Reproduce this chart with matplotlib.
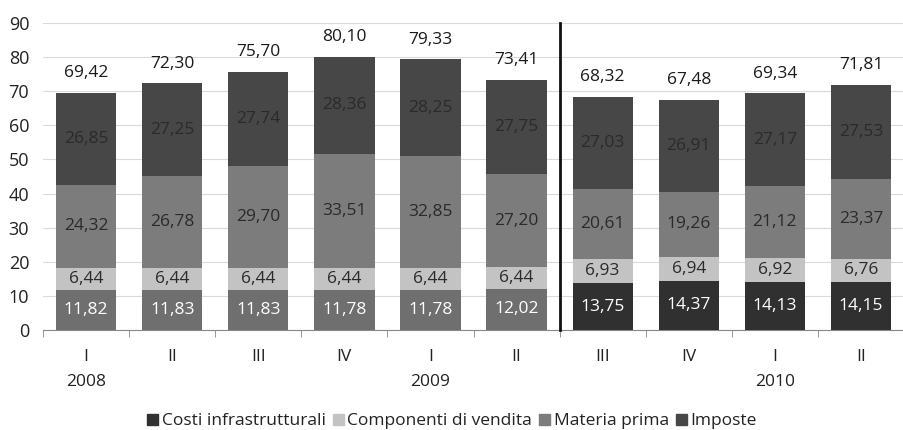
import matplotlib.pyplot as plt
import numpy as np

plt.rcParams['font.family'] = ['Open Sans', 'DejaVu Sans']

quarters = ['I', 'II', 'III', 'IV', 'I', 'II', 'III', 'IV', 'I', 'II']
years = {0: '2008', 4: '2009', 8: '2010'}

infra = [11.82, 11.83, 11.83, 11.78, 11.78, 12.02, 13.75, 14.37, 14.13, 14.15]
vendita = [6.44, 6.44, 6.44, 6.44, 6.44, 6.44, 6.93, 6.94, 6.92, 6.76]
materia = [24.32, 26.78, 29.70, 33.51, 32.85, 27.20, 20.61, 19.26, 21.12, 23.37]
imposte = [26.85, 27.25, 27.74, 28.36, 28.25, 27.75, 27.03, 26.91, 27.17, 27.53]
totali = [69.42, 72.30, 75.70, 80.10, 79.33, 73.41, 68.32, 67.48, 69.34, 71.81]

c_infra_old = '#6f6f6f'
c_infra = '#303030'
c_vend = '#c3c3c3'
c_mat = '#7c7c7c'
c_imp = '#474747'

def fmt(v):
    return f'{v:.2f}'.replace('.', ',')

fig = plt.figure(figsize=(9.04, 4.30), dpi=100)
ax = fig.add_axes([0.0476, 0.2326, 0.9524, 0.714])

x = np.arange(len(quarters))
w = 0.70
fs = 12.5
infra_cols = [c_infra_old] * 6 + [c_infra] * 4

ax.bar(x, infra, w, color=infra_cols, zorder=3)
b1 = np.array(infra)
ax.bar(x, vendita, w, bottom=b1, color=c_vend, zorder=3)
b2 = b1 + np.array(vendita)
ax.bar(x, materia, w, bottom=b2, color=c_mat, zorder=3)
b3 = b2 + np.array(materia)
ax.bar(x, imposte, w, bottom=b3, color=c_imp, zorder=3)
b4 = b3 + np.array(imposte)

for i in range(len(x)):
    ax.text(x[i], infra[i] / 2, fmt(infra[i]), ha='center', va='center',
            color='white', fontsize=fs, zorder=4)
    ax.text(x[i], b1[i] + vendita[i] / 2, fmt(vendita[i]), ha='center', va='center',
            color='#2a2a2a', fontsize=fs, zorder=4)
    ax.text(x[i], b2[i] + materia[i] / 2, fmt(materia[i]), ha='center', va='center',
            color='#2a2a2a', fontsize=fs, zorder=4)
    ax.text(x[i], b3[i] + imposte[i] / 2, fmt(imposte[i]), ha='center', va='center',
            color='#2a2a2a', fontsize=fs, zorder=4)
    ax.text(x[i], b4[i] + 5.8, fmt(totali[i]), ha='center', va='center',
            color='#1a1a1a', fontsize=fs, zorder=4)

ax.set_ylim(0, 90)
ax.set_xlim(-0.5, 9.397)
ax.set_yticks(range(0, 91, 10))
ax.yaxis.grid(True, color='#dadada', lw=0.8, zorder=0)
ax.tick_params(axis='y', length=0, labelsize=13, colors='#222222', pad=10)

ax.set_xticks(x)
ax.set_xticklabels(quarters)
ax.set_xticks(np.arange(-0.5, 10, 1), minor=True)
ax.tick_params(axis='x', which='major', length=0, labelsize=12.5, colors='#222222', pad=14)
ax.tick_params(axis='x', which='minor', length=5, color='#888888', direction='out')

for k, y in years.items():
    ax.text(k, -0.145, y, transform=ax.get_xaxis_transform(), ha='center', va='top',
            fontsize=12.5, color='#222222')

for s in ['top', 'right', 'left']:
    ax.spines[s].set_visible(False)
ax.spines['bottom'].set_color('#888888')

ax.plot([5.5, 5.5], [0, 90], color='#111111', lw=2, zorder=5, clip_on=False)

handles = [plt.Rectangle((0, 0), 1, 1, color=c) for c in [c_infra, c_vend, c_mat, c_imp]]
labels = ['Costi infrastrutturali', 'Componenti di vendita', 'Materia prima', 'Imposte']
fig.legend(handles, labels, loc='center', bbox_to_anchor=(0.5, 0.02), ncol=4,
           frameon=False, fontsize=12.5, handlelength=0.65, handleheight=0.65,
           handletextpad=0.2, columnspacing=0.4, labelcolor='#222222')

fig.savefig('out.png', dpi=100)
